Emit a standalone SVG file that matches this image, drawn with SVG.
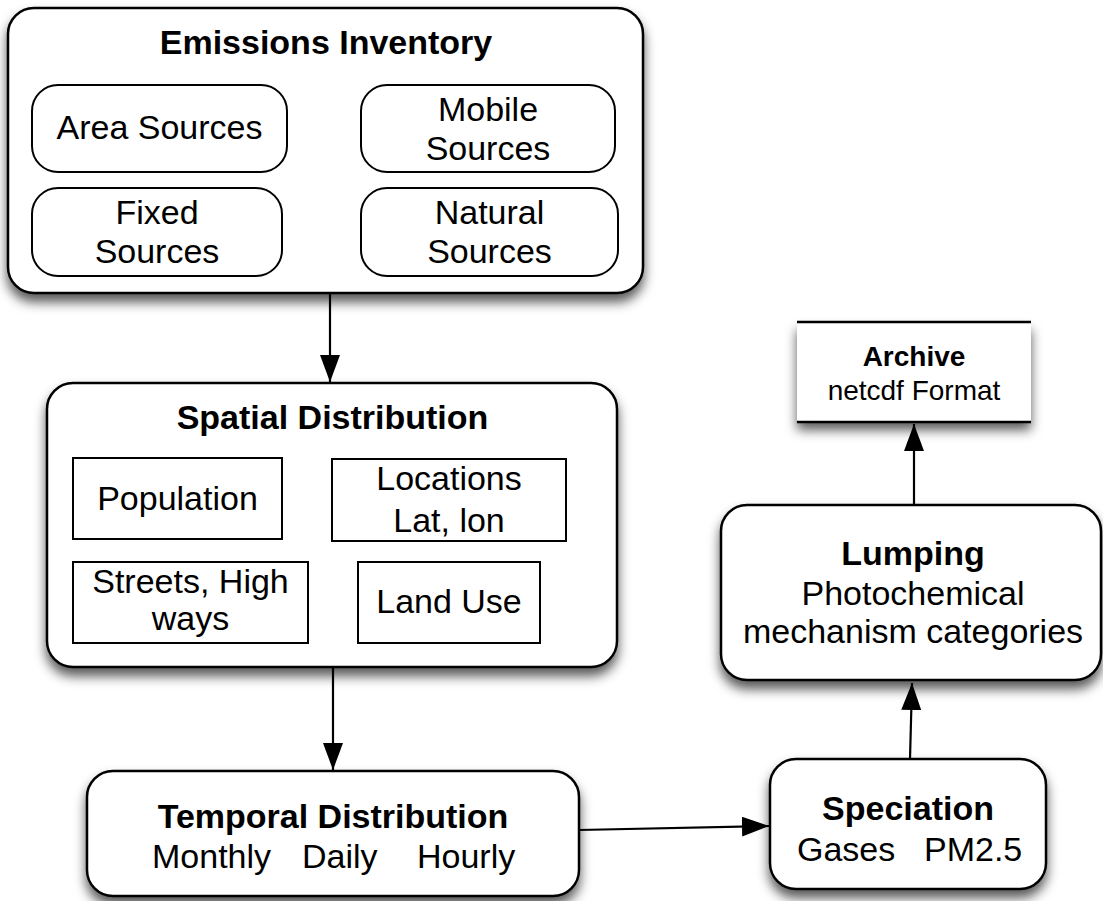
<svg xmlns="http://www.w3.org/2000/svg" width="1103" height="901" viewBox="0 0 1103 901">
<style>
text{font-family:"Liberation Sans",Arial,sans-serif;fill:#000;text-anchor:middle}
.t{font-size:34px;font-weight:bold}
.n{font-size:34px}
.s{font-size:28px}
.sb{font-size:28px;font-weight:bold}
.outer{fill:#fff;stroke:#000;stroke-width:2.5;filter:url(#sh)}
.inner{fill:#fff;stroke:#000;stroke-width:2}
.conn line{stroke:#000;stroke-width:2.2;marker-end:url(#ah)}
</style>
<defs>
<filter id="sh" x="-10%" y="-10%" width="120%" height="135%">
<feDropShadow dx="0" dy="8" stdDeviation="6" flood-color="#000" flood-opacity="0.65"/>
</filter>
<marker id="ah" markerUnits="userSpaceOnUse" markerWidth="28" markerHeight="22" refX="27" refY="10" orient="auto">
<path d="M0,0 L27,10 L0,20 z" fill="#000"/>
</marker>
</defs>
<rect width="1103" height="901" fill="#fff"/>

<g id="emissions">
<rect class="outer" x="8" y="8" width="635" height="285" rx="26"/>
<text class="t" x="326" y="54">Emissions Inventory</text>
<rect class="inner" x="32" y="85" width="255" height="87" rx="26"/>
<text class="n" x="159.5" y="139">Area Sources</text>
<rect class="inner" x="361" y="85" width="254" height="87" rx="26"/>
<text class="n" x="488" y="121">Mobile</text>
<text class="n" x="488" y="160">Sources</text>
<rect class="inner" x="32" y="188" width="250" height="88" rx="26"/>
<text class="n" x="157" y="224">Fixed</text>
<text class="n" x="157" y="263">Sources</text>
<rect class="inner" x="361" y="188" width="257" height="88" rx="26"/>
<text class="n" x="489.5" y="224">Natural</text>
<text class="n" x="489.5" y="263">Sources</text>
</g>

<g id="spatial">
<rect class="outer" x="47" y="383" width="570" height="284" rx="26"/>
<text class="t" x="332.5" y="429">Spatial Distribution</text>
<rect class="inner" x="73" y="458" width="209" height="81"/>
<text class="n" x="177.5" y="510">Population</text>
<rect class="inner" x="332" y="459" width="234" height="82"/>
<text class="n" x="449" y="490">Locations</text>
<text class="n" x="449" y="532">Lat, lon</text>
<rect class="inner" x="73" y="562" width="235" height="81"/>
<text class="n" x="190.5" y="593">Streets, High</text>
<text class="n" x="190.5" y="630">ways</text>
<rect class="inner" x="358" y="562" width="182" height="81"/>
<text class="n" x="449" y="613">Land Use</text>
</g>

<g id="temporal">
<rect class="outer" x="87" y="771" width="492" height="125" rx="26"/>
<text class="t" x="333" y="828">Temporal Distribution</text>
<text class="n" y="868" style="text-anchor:start"><tspan x="152">Monthly</tspan><tspan x="302">Daily</tspan><tspan x="417">Hourly</tspan></text>
</g>

<g id="speciation">
<rect class="outer" x="770" y="759" width="276" height="130" rx="26"/>
<text class="t" x="908" y="820">Speciation</text>
<text class="n" y="861" style="text-anchor:start"><tspan x="797">Gases</tspan><tspan x="924">PM2.5</tspan></text>
</g>

<g id="lumping">
<rect class="outer" x="721" y="505" width="380" height="175" rx="26"/>
<text class="t" x="913" y="565">Lumping</text>
<text class="n" x="913" y="605">Photochemical</text>
<text class="n" x="913" y="643">mechanism categories</text>
</g>

<g id="archive">
<rect x="797" y="322" width="234" height="100" fill="#fff" filter="url(#sh)"/>
<line x1="797" y1="322" x2="1031" y2="322" stroke="#000" stroke-width="2.5"/>
<line x1="797" y1="422" x2="1031" y2="422" stroke="#000" stroke-width="2.5"/>
<text class="sb" x="914" y="366">Archive</text>
<text class="s" x="914" y="400">netcdf Format</text>
</g>

<g id="connectors" class="conn">
<line x1="330" y1="293" x2="330" y2="382"/>
<line x1="333" y1="667" x2="333" y2="770"/>
<line x1="579" y1="830" x2="769" y2="826"/>
<line x1="910" y1="759" x2="912" y2="683"/>
<line x1="914" y1="505" x2="914" y2="424"/>
</g>
</svg>
